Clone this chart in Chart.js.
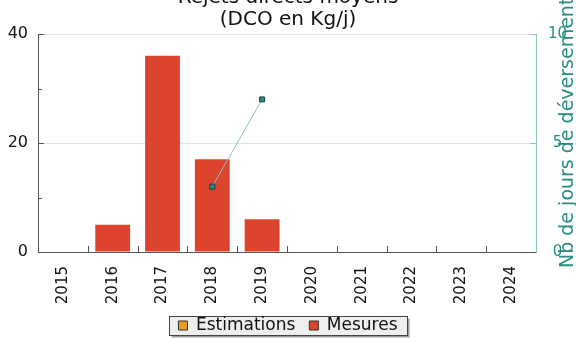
<!DOCTYPE html>
<html>
<head>
<meta charset="utf-8">
<script src="https://cdn.jsdelivr.net/npm/chart.js@4.4.1/dist/chart.umd.min.js"></script>
<style>
    html, body { margin: 0; padding: 0; background: #fff; overflow: hidden; }
    #wrap { position: relative; width: 576px; height: 364px; margin-top: -20px; }
</style>
</head>
<body>
<div id="wrap"><canvas id="chart"></canvas></div>
<script>
const years = ['2015', '2016', '2017', '2018', '2019', '2020', '2021', '2022', '2023', '2024']
const estimations = [null, null, null, null, null, null, null, null, null, null]
const mesures = [null, 5, 36, 17, 6, null, null, null, null, null]
const joursDeversement = [null, null, null, 3, 7, null, null, null, null, null]
const titleLines = ['Rejets directs moyens', '(DCO en Kg/j)']
const rightTitle = 'Nb de jours de déversement'

const teal = '#2a8c84'
const tealLight = '#86c4c0'
const axisGrey = '#555'

Chart.defaults.font.family = "'DejaVu Sans', sans-serif"
Chart.defaults.color = '#222'

// small ticks pointing inside the plot
const innerTicks = {
    id: 'innerTicks',
    afterDatasetsDraw(chart) {
        const ctx = chart.ctx
        const area = chart.chartArea
        const x = chart.scales.x
        const y = chart.scales.y
        const y1 = chart.scales.y1
        ctx.save()
        ctx.lineWidth = 1
        ctx.strokeStyle = axisGrey
        ctx.beginPath()
        for (let i = 1; i < years.length; i++) {
            const px = Math.round((x.getPixelForValue(i - 1) + x.getPixelForValue(i)) / 2) + 0.5
            ctx.moveTo(px, area.bottom)
            ctx.lineTo(px, area.bottom - 6)
        }
        ;[10, 30].forEach(v => {
            const py = Math.round(y.getPixelForValue(v)) + 0.5
            ctx.moveTo(area.left, py)
            ctx.lineTo(area.left + 4, py)
        })
        ;[20, 40].forEach(v => {
            const py = Math.round(y.getPixelForValue(v)) + 0.5
            ctx.moveTo(area.left, py)
            ctx.lineTo(area.left + 6, py)
        })
        ctx.stroke()
        ctx.strokeStyle = tealLight
        ctx.beginPath()
        ;[5, 10].forEach(v => {
            const py = Math.round(y1.getPixelForValue(v)) + 0.5
            ctx.moveTo(area.right, py)
            ctx.lineTo(area.right - 6, py)
        })
        ctx.stroke()
        ctx.restore()
    }
}

// right axis title, reading bottom to top
const rightAxisTitle = {
    id: 'rightAxisTitle',
    afterDraw(chart) {
        const ctx = chart.ctx
        const area = chart.chartArea
        ctx.save()
        ctx.translate(chart.width - 8, area.bottom + 16)
        ctx.rotate(-Math.PI / 2)
        ctx.font = "19px 'DejaVu Sans'"
        ctx.fillStyle = teal
        ctx.textAlign = 'left'
        ctx.textBaseline = 'middle'
        ctx.fillText(rightTitle, 0, 0)
        ctx.restore()
    }
}

// grey frame with shadow behind the legend
const legendFrame = {
    id: 'legendFrame',
    beforeDraw(chart) {
        const boxes = chart.legend.legendHitBoxes
        if (!boxes || !boxes.length) return
        const first = boxes[0]
        const last = boxes[boxes.length - 1]
        const cy = first.top + first.height / 2
        const left = Math.round(first.left - 9) + 0.5
        const right = Math.round(last.left + last.width + 9) + 0.5
        const top = Math.round(cy - 9.5) + 0.5
        const bottom = Math.round(cy + 9.5) + 0.5
        const ctx = chart.ctx
        ctx.save()
        ctx.fillStyle = '#9a9a9a'
        ctx.fillRect(left + 2, top + 2, right - left, bottom - top)
        ctx.fillStyle = '#eeeeee'
        ctx.fillRect(left, top, right - left, bottom - top)
        ctx.strokeStyle = '#444'
        ctx.lineWidth = 1
        ctx.strokeRect(left, top, right - left, bottom - top)
        ctx.restore()
    }
}

const ctx = document.getElementById('chart').getContext('2d')

new Chart(ctx, {
    type: 'bar',
    data: {
        labels: years,
        datasets: [{
            label: 'Estimations',
            data: estimations,
            backgroundColor: '#e89e1e',
            yAxisID: 'y',
            order: 1
        }, {
            label: 'Mesures',
            data: mesures,
            backgroundColor: '#dc442e',
            yAxisID: 'y',
            order: 1
        }, {
            type: 'line',
            label: 'Jours',
            data: joursDeversement,
            yAxisID: 'y1',
            borderColor: tealLight,
            borderWidth: 1,
            pointStyle: 'rect',
            pointRadius: 3.5,
            pointBackgroundColor: teal,
            pointBorderColor: '#1c3a3a',
            pointBorderWidth: 1,
            spanGaps: false,
            order: 0
        }]
    },
    options: {
        responsive: true,
        maintainAspectRatio: false,
        animation: false,
        datasets: {
            bar: {
                categoryPercentage: 1,
                barPercentage: 0.7
            }
        },
        layout: {
            padding: { top: 0, left: 0, right: 0, bottom: 0 }
        },
        plugins: {
            title: {
                display: true,
                text: titleLines,
                color: '#111',
                font: { size: 20, weight: 'normal', lineHeight: 1.1 },
                padding: { top: 7, bottom: 3 }
            },
            legend: {
                position: 'bottom',
                labels: {
                    boxWidth: 9,
                    boxHeight: 9,
                    padding: 14,
                    color: '#111',
                    font: { size: 17 },
                    filter: item => item.datasetIndex < 2,
                    generateLabels(chart) {
                        const items = Chart.defaults.plugins.legend.labels.generateLabels(chart)
                        items.forEach(it => {
                            it.strokeStyle = '#333'
                            it.lineWidth = 1
                        })
                        return items
                    }
                }
            },
            tooltip: { enabled: false }
        },
        scales: {
            x: {
                stacked: true,
                grid: { display: false },
                border: { color: axisGrey, width: 1 },
                ticks: {
                    minRotation: 90,
                    maxRotation: 90,
                    padding: 6,
                    color: '#111',
                    font: { size: 15 }
                },
                afterFit(scale) {
                    scale.height = 51
                }
            },
            y: {
                stacked: true,
                position: 'left',
                min: 0,
                max: 40,
                grid: { color: '#e2e2e2', drawTicks: false },
                border: { color: axisGrey, width: 1 },
                ticks: {
                    stepSize: 20,
                    padding: 10,
                    color: '#111',
                    font: { size: 16 }
                },
                afterFit(scale) {
                    scale.width = 38
                }
            },
            y1: {
                position: 'right',
                min: 0,
                max: 10,
                grid: { display: false, drawTicks: false },
                border: { color: tealLight, width: 1 },
                ticks: {
                    stepSize: 5,
                    padding: 12,
                    crossAlign: 'center',
                    color: teal,
                    font: { size: 15 }
                },
                afterFit(scale) {
                    scale.width = 40
                }
            }
        }
    },
    plugins: [innerTicks, rightAxisTitle, legendFrame]
})
</script>
</body>
</html>
